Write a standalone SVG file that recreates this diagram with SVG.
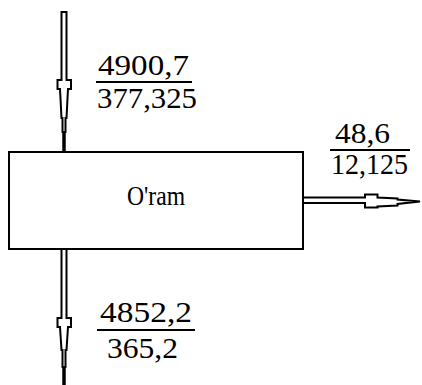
<svg xmlns="http://www.w3.org/2000/svg" width="422" height="385" viewBox="0 0 422 385">
<style>
.t{font-family:"Liberation Serif","Times New Roman",serif;font-size:29px;fill:#000}
.o{fill:#fff;stroke:#000;stroke-width:2}
.bar{stroke:#000;stroke-width:2}
.thick{stroke:#000;stroke-width:3.5}
</style>
<rect width="422" height="385" fill="#fff"/>
<g id="connectors">
<g id="in-top">
<path class="o" d="M61.5,12 H66.5 V80 H71 V89 H68 L66.5,118 H65.5 V132 H62.5 V118 H61.5 L60,89 H57.5 V80 H61.5 Z"/>
<line class="thick" x1="64" y1="132" x2="64" y2="152"/>
</g>
<g id="out-bottom">
<path class="o" d="M61.5,249 H66.5 V318 H71 V327 H68 L66.5,350 H65.5 V367 H62.5 V350 H61.5 L60,327 H57.5 V318 H61.5 Z"/>
<line class="thick" x1="64" y1="367" x2="64" y2="385"/>
</g>
<g id="out-right">
<path class="o" d="M303,197.5 H365 V194.5 H377.5 V197.5 L397.5,198.5 V199.5 L420,201.5 L397.5,204 V205.5 L377.5,206.5 V207.5 H365 V203 H303 Z"/>
</g>
</g>
<g id="node-oram">
<rect x="9" y="152" width="294" height="97" fill="#fff" stroke="#000" stroke-width="2"/>
<text class="t" x="127" y="205" style="font-size:27px" textLength="58" lengthAdjust="spacingAndGlyphs">O'ram</text>
</g>
<g id="label-top">
<text class="t" x="98" y="75" textLength="91" lengthAdjust="spacingAndGlyphs">4900,7</text>
<line class="bar" x1="96" y1="82" x2="192" y2="82"/>
<text class="t" x="97" y="108" textLength="100" lengthAdjust="spacingAndGlyphs">377,325</text>
</g>
<g id="label-right">
<text class="t" x="335" y="143" textLength="55" lengthAdjust="spacingAndGlyphs">48,6</text>
<line class="bar" x1="330" y1="150" x2="410" y2="150"/>
<text class="t" x="331" y="174" textLength="77" lengthAdjust="spacingAndGlyphs">12,125</text>
</g>
<g id="label-bottom">
<text class="t" x="100" y="322" textLength="92" lengthAdjust="spacingAndGlyphs">4852,2</text>
<line class="bar" x1="97" y1="330" x2="195" y2="330"/>
<text class="t" x="107" y="358" textLength="71" lengthAdjust="spacingAndGlyphs">365,2</text>
</g>
</svg>
